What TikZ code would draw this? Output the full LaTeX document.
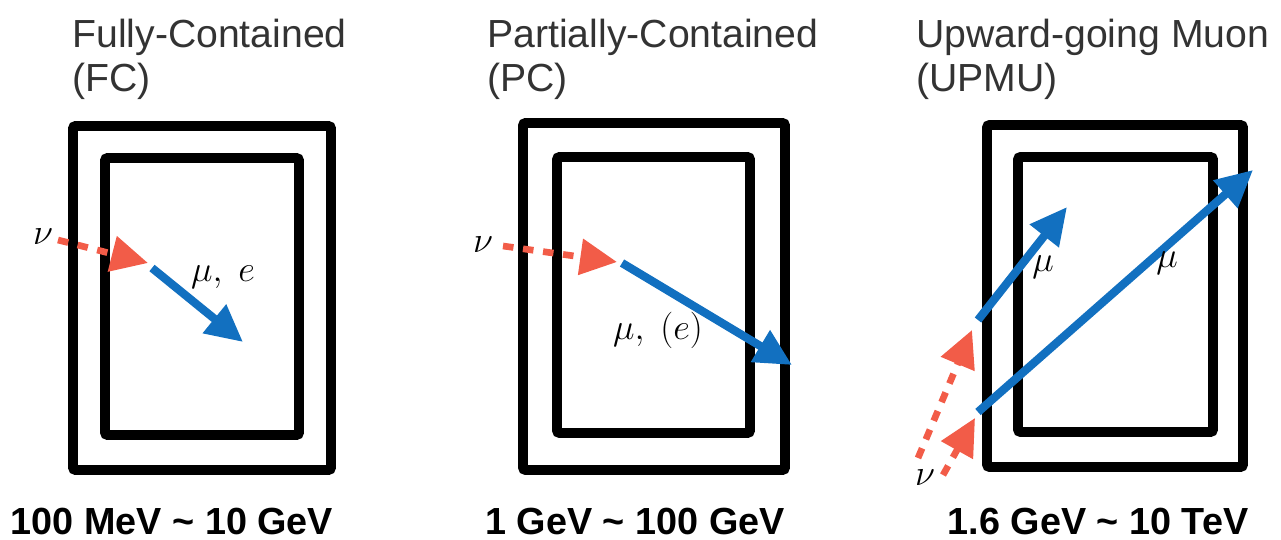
\documentclass[tikz,border=0pt]{standalone}
\usepackage{fontspec}
\setmainfont{Liberation Sans}
\usetikzlibrary{arrows.meta,positioning}
\definecolor{nured}{RGB}{242,92,72}
\definecolor{mublue}{RGB}{18,112,192}
\begin{document}
\begin{tikzpicture}[x=0.02cm,y=-0.02cm,
det/.style={line width=5.6pt,rounded corners=1.5pt},
nuarr/.style={nured,line width=3.8pt,dash pattern=on 6pt off 5.5pt,-{Triangle[length=21pt,width=20pt]}},
muarr/.style={mublue,line width=4.7pt,-{Triangle[length=21pt,width=20pt]}},
title/.style={anchor=base west,inner sep=0pt,text=black!80,font=\fontsize{22.3}{27}\selectfont},
erange/.style={anchor=base,inner sep=0pt,font=\fontsize{21.5}{26}\selectfont\bfseries},
lab/.style={inner sep=0pt,font=\fontsize{20}{24}\selectfont}]
\useasboundingbox (0,0) rectangle (1281,540);
% titles
\node[title] (T1) at (72,48) {Fully-Contained};
\node[title] (T1b) at (72,92) {(FC)};
\node[title] (T2) at (487,48) {Partially-Contained};
\node[title] (T2b) at (487,92) {(PC)};
\node[title] (T3) at (916,48) {Upward-going Muon};
\node[title] (T3b) at (916,92) {(UPMU)};
% detectors
\draw[det] (73,126) rectangle (331,470);
\draw[det] (105,158) rectangle (299,435);
\draw[det] (523,123) rectangle (785,470);
\draw[det] (557,157) rectangle (750,433);
\draw[det] (987,125) rectangle (1243,467);
\draw[det] (1018,157) rectangle (1213,432);
% FC
\node[lab] (N1) at (43,237) {$\nu$};
\coordinate (N1s) at (58,240);
\coordinate (N1e) at (148,263);
\coordinate (M1s) at (152,268);
\coordinate (M1e) at (243,342);
\draw[nuarr] (N1s)--(N1e);
\draw[muarr] (M1s)--(M1e);
\node[lab] (L1) at (223,277) {$\mu,\ e$};
% PC
\node[lab] (N2) at (483,245) {$\nu$};
\coordinate (N2s) at (503,246);
\coordinate (N2e) at (617,262);
\coordinate (M2s) at (622,263);
\coordinate (M2e) at (792,365);
\draw[nuarr] (N2s)--(N2e);
\draw[muarr] (M2s)--(M2e);
\node[lab] (L2) at (658,330) {$\mu,\ (e)$};
% UPMU
\node[lab] (N3) at (925,478) {$\nu$};
\coordinate (N3s) at (918,458);
\coordinate (N3e) at (972,330);
\coordinate (N4s) at (943,475);
\coordinate (N4e) at (975,418);
\coordinate (M3s) at (978,320);
\coordinate (M3e) at (1067,207);
\coordinate (M4s) at (978,412);
\coordinate (M4e) at (1253,170);
\draw[nuarr] (N3s)--(N3e);
\draw[nuarr] (N4s)--(N4e);
\draw[muarr] (M3s)--(M3e);
\draw[muarr] (M4s)--(M4e);
\node[lab] (L3) at (1043,267) {$\mu$};
\node[lab] (L4) at (1167,263) {$\mu$};
% energy ranges
\node[erange] (R1) at (172,534) {100 MeV \char`~{} 10 GeV};
\node[erange] (R2) at (635,534) {1 GeV \char`~{} 100 GeV};
\node[erange] (R3) at (1098,534) {1.6 GeV \char`~{} 10 TeV};
\end{tikzpicture}
\end{document}
